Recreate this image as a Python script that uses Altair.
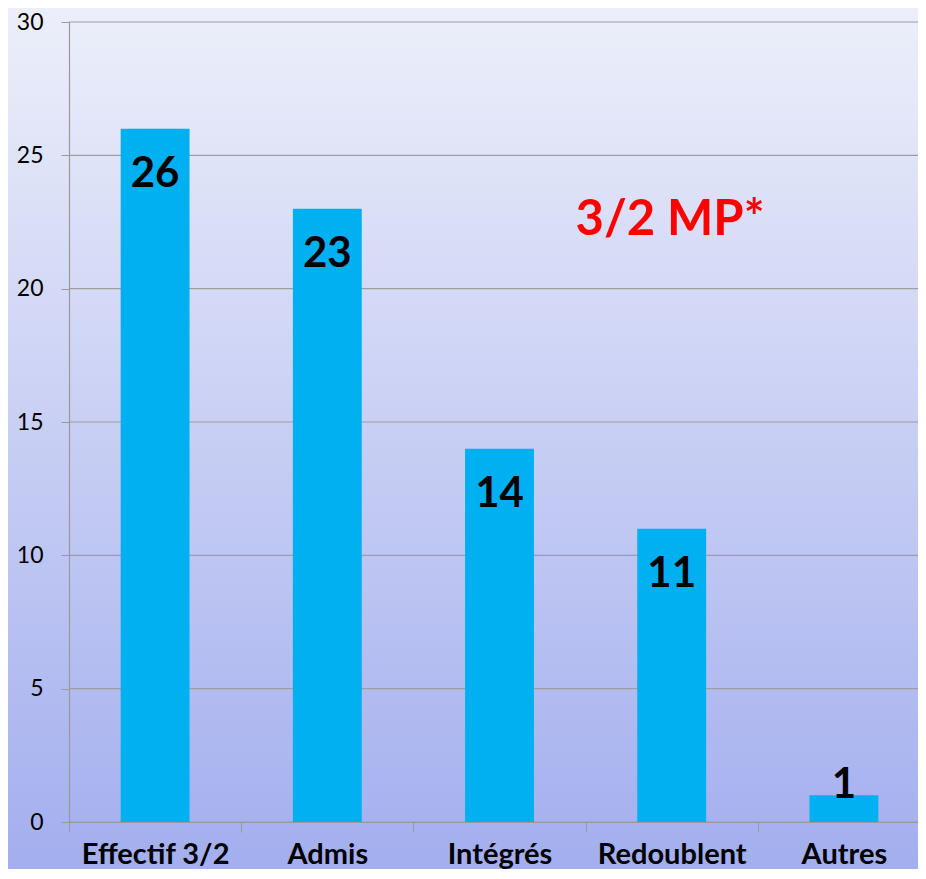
import altair as alt
import pandas as pd

categories = ["Effectif 3/2", "Admis", "Intégrés", "Redoublent", "Autres"]
values = [26, 23, 14, 11, 1]
y_ticks = [0, 5, 10, 15, 20, 25, 30]
annotation = "3/2 MP*"

df = pd.DataFrame({"categorie": categories, "valeur": values})
grid_df = pd.DataFrame({"valeur": y_ticks})
one = pd.DataFrame({"k": [0]})

W, H = 861, 800
PAD = {"left": 61, "top": 14, "right": -12, "bottom": 47}

ysc = alt.Scale(domain=[0, 30], nice=False)
xsc = alt.Scale(paddingInner=0, paddingOuter=0)

y_axis = alt.Axis(
    values=y_ticks, labelFont="Lato", labelFontSize=23, labelColor="black",
    labelPadding=18, tickSize=8, tickColor="#999999", domainColor="#999999",
    domainWidth=1.2, grid=False, zindex=1,
)

bg = alt.Chart(one).mark_rect(
    color=alt.LinearGradient(
        gradient="linear",
        stops=[alt.GradientStop(color="#eceffa", offset=0),
               alt.GradientStop(color="#a3aeee", offset=1)],
        x1=0, x2=0, y1=0, y2=1,
    )
).encode(
    x=alt.value(-PAD["left"]), x2=alt.value(W),
    y=alt.value(-PAD["top"]), y2=alt.value(H + PAD["bottom"]),
)

grid = alt.Chart(grid_df).mark_rule(color="#9e9e9e", strokeWidth=1.2).encode(
    y=alt.Y("valeur:Q", scale=ysc, axis=y_axis, title=None),
    x=alt.value(0), x2=alt.value(W),
)

base = alt.Chart(df).encode(
    x=alt.X(
        "categorie:N", sort=categories, scale=xsc, title=None,
        axis=alt.Axis(
            labelAngle=0, labelFont="Lato", labelFontWeight="bold", labelFontSize=29,
            labelColor="black", labelBaseline="alphabetic", labelPadding=31,
            tickSize=10, tickBand="extent",
            tickColor="#999999", domainColor="#999999", grid=False, zindex=1,
        ),
    ),
    y=alt.Y("valeur:Q", scale=ysc, title=None, axis=y_axis),
)

bars = base.mark_bar(color="#00b0f0", width=alt.RelativeBandSize(0.4))

labels_in = base.transform_filter("datum.valeur >= 5").mark_text(
    font="Lato", fontWeight="bold", fontSize=42, color="black",
    baseline="alphabetic", dy=58,
).encode(text="valeur:Q")

labels_out = base.transform_filter("datum.valeur < 5").mark_text(
    font="Lato", fontWeight="bold", fontSize=42, color="black",
    baseline="alphabetic", dy=3,
).encode(text="valeur:Q")

note = alt.Chart(one).mark_text(
    font="Lato", fontWeight="bold", fontSize=49, color="#ff0000",
    align="center", baseline="alphabetic",
).encode(x=alt.value(601), y=alt.value(213), text=alt.value(annotation))

chart = alt.layer(bg, grid, bars, labels_in, labels_out, note).properties(
    width=W, height=H,
    autosize=alt.AutoSizeParams(type="none"),
    padding=PAD,
    background="#eceffa",
).configure_view(stroke=None)

chart.save("out.html", embed_options={"renderer": "svg", "actions": False})
